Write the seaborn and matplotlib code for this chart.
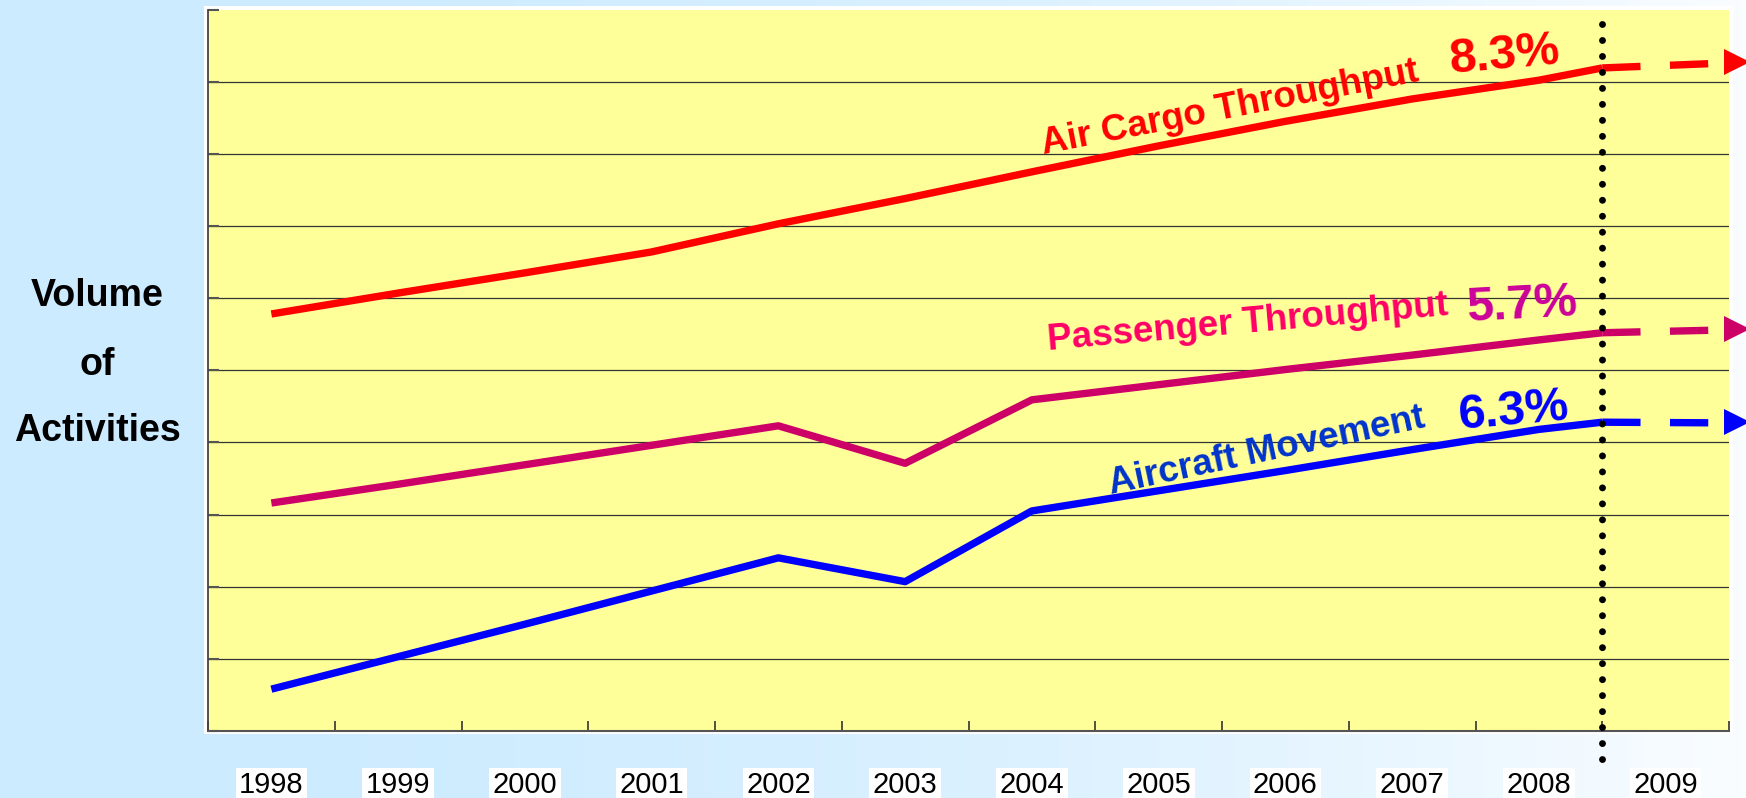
import numpy as np
import pandas as pd
import seaborn as sns
import matplotlib
matplotlib.use("Agg")
from matplotlib import pyplot as plt
from matplotlib.patches import Rectangle

# values (arbitrary "volume" units, 0-10)
years = ['1998', '1999', '2000', '2001', '2002', '2003',
         '2004', '2005', '2006', '2007', '2008', '2009']
cargo = [5.78, 6.07, 6.35, 6.64, 7.03, 7.38, 7.75, 8.11, 8.45, 8.76, 9.02]
passenger = [3.16, 3.42, 3.69, 3.96, 4.23, 3.71, 4.59, 4.80, 5.01, 5.21, 5.42]
aircraft = [0.58, 1.03, 1.48, 1.94, 2.40, 2.07, 3.05, 3.33, 3.61, 3.90, 4.18]

# where the solid lines stop (at the 2008/2009 divider) and the arrow tips
cargo_end = [9.19, 9.27]
passenger_end = [5.52, 5.57]
aircraft_end = [4.28, 4.28]

growth = ['8.3%', '5.7%', '6.3%']
series_names = ['Air Cargo Throughput', 'Passenger Throughput', 'Aircraft Movement']

plt.rcParams['font.family'] = ['Liberation Sans', 'DejaVu Sans']

W, H = 1746, 798
fig = plt.figure(figsize=(W / 100, H / 100), dpi=100)

# background gradient (light blue -> white)
bg = fig.add_axes([0, 0, 1, 1], zorder=-5)
t = np.linspace(0, 1, 400) ** 2
c0 = np.array([204, 235, 255]) / 255
c1 = np.array([250, 253, 255]) / 255
grad = c0[None, :] + (c1 - c0)[None, :] * t[:, None]
bg.imshow(grad[None, :, :], aspect='auto', extent=[0, 1, 0, 1])
bg.set_axis_off()

# plot area in pixels
x0, x1, ytop, ybot = 208, 1729, 9.5, 731
ax_rect = [x0 / W, 1 - ybot / H, (x1 - x0) / W, (ybot - ytop) / H]
fig.patches.append(Rectangle((ax_rect[0] - 4 / W, ax_rect[1] - 3 / H),
                             ax_rect[2] + 8 / W, ax_rect[3] + 7 / H,
                             transform=fig.transFigure, facecolor='white',
                             edgecolor='none', zorder=-2))
ax = fig.add_axes(ax_rect)
ax.set_facecolor('#FFFF99')

pos = np.arange(len(years))
n = len(cargo)
lw = 5.3
colors = ['#FF0000', '#CC0066', '#0000FF']
ends = [cargo_end, passenger_end, aircraft_end]
for vals, end, col in zip([cargo, passenger, aircraft], ends, colors):
    xs = list(pos[:n]) + [10.5]
    ys = vals + [end[0]]
    sns.lineplot(x=xs, y=ys, color=col, lw=lw, ax=ax, sort=False,
                 solid_capstyle='butt')
    # dashed projection to 2009 with arrow head
    ax.plot([10.5, 11.5], [end[0], end[1] - 0.01], color=col, lw=lw,
            dashes=(5.2, 4.0), clip_on=False, solid_capstyle='butt')
    ax.plot([11.56], [end[1]], marker='>', color=col, markersize=19,
            markeredgewidth=0, clip_on=False)

# dotted divider between actual and forecast
ax.plot([10.5, 10.5], [9.8, -0.45], color='black', lw=5.0,
        linestyle=(0, (0.001, 2.3)), dash_capstyle='round', clip_on=False,
        zorder=5)

# labels on the lines
label_cfg = [
    (7.56, 8.63, 11, '#FF0000', 9.73, 9.36, 5, '#FF0000'),
    (7.70, 5.65, 5, '#FF0066', 9.87, 5.89, 3, '#CC0099'),
    (7.85, 3.88, 12, '#0033CC', 9.80, 4.42, 5, '#0000FF'),
]
for name, g, (lx, ly, lr, lc, gx, gy, gr, gc) in zip(series_names, growth, label_cfg):
    ax.text(lx, ly, name, color=lc, fontsize=26.5, fontweight='bold',
            rotation=lr, ha='center', va='center', rotation_mode='anchor')
    ax.text(gx, gy, g, color=gc, fontsize=35, fontweight='bold',
            rotation=gr, ha='center', va='center', rotation_mode='anchor')

ax.set_xlim(-0.5, 11.5)
ax.set_ylim(0, 10)
ax.set_xticks(np.arange(-0.5, 12, 1))
ax.set_xticklabels([])
ax.set_xticks(pos, minor=True)
ax.set_xticklabels(years, minor=True, fontsize=21)
ax.tick_params(axis='x', which='major', direction='in', length=7.5,
               width=1.2, color='#333333')
ax.tick_params(axis='x', which='minor', length=0, pad=29)
for lbl in ax.get_xticklabels(minor=True):
    lbl.set_bbox(dict(facecolor='white', edgecolor='none', pad=2.5))
ax.set_yticks(np.arange(0, 11, 1))
ax.set_yticklabels([])
ax.tick_params(axis='y', direction='in', length=8, width=1.5, color='#555555')
for yv in range(1, 10):
    ax.axhline(yv, color='#333333', lw=0.9, zorder=0.5)

for s in ['top', 'right']:
    ax.spines[s].set_visible(False)
ax.spines['left'].set_color('#444444')
ax.spines['bottom'].set_color('#555555')
ax.spines['left'].set_linewidth(1.3)
ax.spines['bottom'].set_linewidth(1.5)

# y axis title
for txt, yy in zip(['Volume', 'of', 'Activities'], [296, 365, 431]):
    fig.text(97 / W, 1 - yy / H, txt, fontsize=27, fontweight='bold',
             ha='center', va='center')

fig.savefig('out.png', dpi=100)
